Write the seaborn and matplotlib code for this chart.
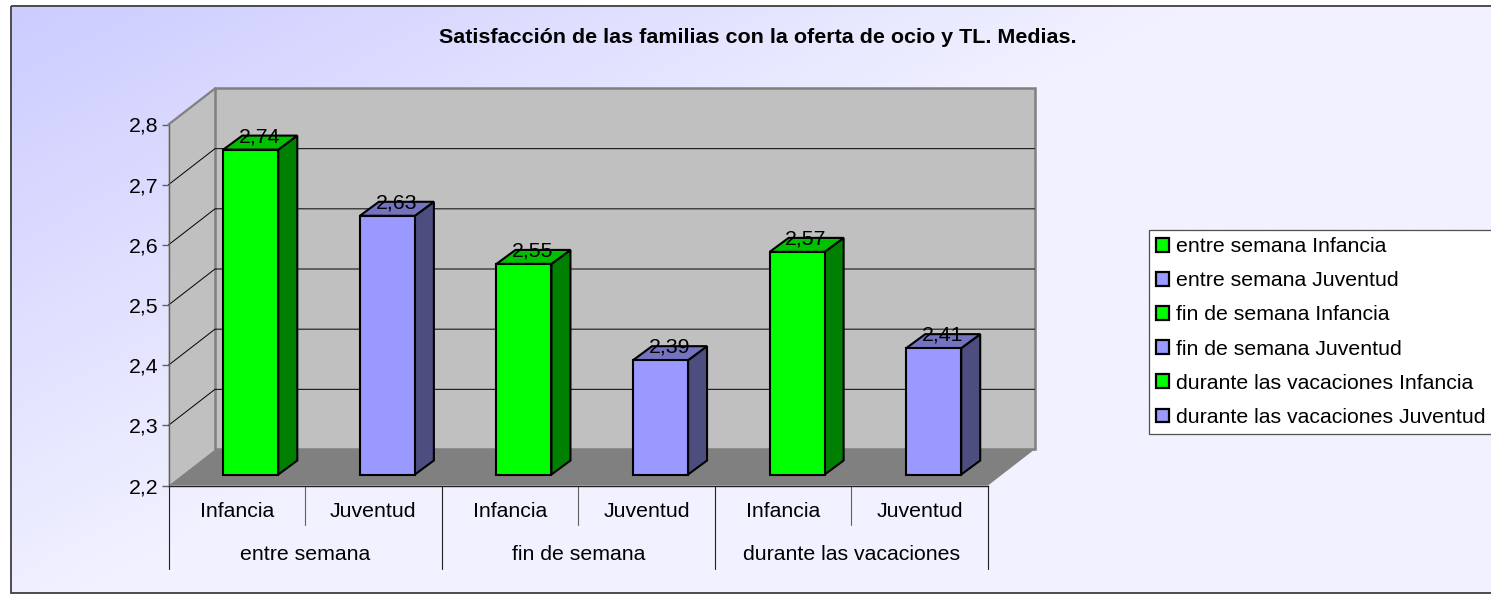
import numpy as np
import pandas as pd
import matplotlib
matplotlib.use('Agg')
import matplotlib.pyplot as plt
from matplotlib.patches import Patch, Polygon, Rectangle
import seaborn as sns

groups = ['entre semana', 'fin de semana', 'durante las vacaciones']
ages = ['Infancia', 'Juventud']
values = [2.74, 2.63, 2.55, 2.39, 2.57, 2.41]
y_ticks = [2.2, 2.3, 2.4, 2.5, 2.6, 2.7, 2.8]
title = 'Satisfacción de las familias con la oferta de ocio y TL. Medias.'

front_colors = {'Infancia': '#00FF00', 'Juventud': '#9999FF'}
side_colors = {'Infancia': '#008000', 'Juventud': '#4D4D80'}
top_colors = {'Infancia': '#00C000', 'Juventud': '#7373BF'}

df = pd.DataFrame({
    'group': [g for g in groups for a in ages],
    'age': [a for g in groups for a in ages],
    'value': values,
})
df['name'] = df['group'] + ' ' + df['age']

sns.set_theme(style='white')
plt.rcParams['font.family'] = ['Liberation Sans', 'DejaVu Sans']
FS = 15.3
EDGE = 1.5

W, H = 1491, 594
fig = plt.figure(figsize=(W / 100, H / 100), dpi=100, facecolor='white')

# chart area background with its soft gradient, in pixel coordinates
bg = fig.add_axes([0, 0, 1, 1], zorder=-1)
xx, yy = np.meshgrid(np.linspace(0, 1, 200), np.linspace(0, 1, 100))
t = np.clip(1.27 * xx + 0.95 * yy, 0, 1)[..., None]
c0 = np.array([0xCC, 0xCC, 0xFF]) / 255
c1 = np.array([0xF1, 0xF1, 0xFF]) / 255
bg.imshow(c0 + (c1 - c0) * t, extent=(10.5, W + 3, 593, 5.5), aspect='auto', interpolation='bilinear')
bg.add_patch(Rectangle((10.5, 5.5), W, 587.5, fc='none', ec='#404040', lw=1.3))
bg.set_xlim(0, W)
bg.set_ylim(H, 0)
bg.axis('off')
bg.text(757.5, 37.5, title, ha='center', va='center', fontsize=15.45, fontweight='bold', color='black')

# front plane of the plot box
left, right, bottom, top = 168.5, 988, 485.5, 124.5
ax = fig.add_axes([left / W, 1 - bottom / H, (right - left) / W, (bottom - top) / H])
ax.patch.set_visible(False)

sns.barplot(data=df, x='name', y='value', hue='age', palette=front_colors, saturation=1,
            order=df['name'], width=55 / 136.6, dodge=False, legend=False,
            edgecolor='black', linewidth=EDGE, zorder=5, ax=ax)
ax.set_xlim(-0.5, 5.5)
ax.set_ylim(y_ticks[0], y_ticks[-1])
ax.set_xlabel('')
ax.set_ylabel('')

px = 6 / (right - left)      # data units per pixel on x
py = 0.6 / (bottom - top)    # data units per pixel on y
xa, xb = ax.get_xlim()
ya, yb = ax.get_ylim()
back_x = 46.5 * px
back_y = 36 * py

# walls and floor
ax.add_patch(Polygon([(xa, ya), (xa, yb), (xa + back_x, yb + back_y), (xa + back_x, ya + back_y)],
                     fc='#C0C0C0', ec='none', clip_on=False, zorder=1))
ax.add_patch(Rectangle((xa + back_x, ya + back_y), xb - xa, yb - ya, fc='#C0C0C0', ec='#808080',
                       lw=1.8, clip_on=False, zorder=1))
ax.add_patch(Polygon([(xa, ya), (xb, ya), (xb + back_x, ya + back_y), (xa + back_x, ya + back_y)],
                     fc='#808080', ec='none', clip_on=False, zorder=2))
ax.plot([xa, xa + back_x], [yb, yb + back_y], color='#808080', lw=1.6, clip_on=False, zorder=2)

# gridlines run along the side wall and the back wall
for v in y_ticks[1:-1]:
    ax.plot([xa, xa + back_x, xb + back_x], [v, v + back_y, v + back_y], color='black', lw=0.7,
            clip_on=False, zorder=2)

# bars: move into the depth of the box and add side and top faces
shift_x, shift_y = 14 * px, 11 * py
dx, dy = 19 * px, 14 * py
bars = sorted([b for b in ax.patches if b.get_zorder() == 5], key=lambda b: b.get_x())
for bar, v, age in zip(bars, values, df['age']):
    x0 = bar.get_x() + shift_x
    x1 = x0 + bar.get_width()
    y0 = ya + shift_y
    y1 = y0 + (v - ya)
    bar.set_x(x0)
    bar.set_y(y0)
    bar.set_height(v - ya)
    bar.set_clip_on(False)
    ax.add_patch(Polygon([(x1, y0), (x1 + dx, y0 + dy), (x1 + dx, y1 + dy), (x1, y1)],
                         fc=side_colors[age], ec='black', lw=EDGE, clip_on=False, zorder=4))
    ax.add_patch(Polygon([(x0, y1), (x0 + dx, y1 + dy), (x1 + dx, y1 + dy), (x1, y1)],
                         fc=top_colors[age], ec='black', lw=EDGE, clip_on=False, zorder=4))
    ax.text((x0 + x1) / 2 + 9 * px, y1 + 13 * py, f'{v:.2f}'.replace('.', ','), ha='center', va='center',
            fontsize=FS, color='black', zorder=6, clip_on=False)

for side in ['top', 'right']:
    ax.spines[side].set_visible(False)
ax.spines['left'].set_color('#606060')
ax.spines['left'].set_linewidth(1.0)
ax.spines['bottom'].set_color('#202020')
ax.spines['bottom'].set_linewidth(1.0)
ax.spines['left'].set_zorder(3)
ax.spines['bottom'].set_zorder(3)

ax.set_yticks(y_ticks, [f'{v:.1f}'.replace('.', ',') for v in y_ticks])
ax.tick_params(axis='y', left=True, length=5, width=1.0, color='#606060', pad=2.2,
               labelsize=FS, labelcolor='black')
ax.set_xticks(range(len(df)), df['age'])
ax.tick_params(axis='x', bottom=False, pad=12.5, labelsize=FS, labelcolor='black')
for lab in ax.get_xticklabels():
    lab.set_verticalalignment('center')
    lab.set_color('black')

# two level category axis
n_age = len(ages)
for i in range(len(df) + 1):
    x = xa + i
    if i % n_age == 0:
        ax.plot([x, x], [ya, ya - 83 * py], color='#202020', lw=0.8, clip_on=False, zorder=3)
    else:
        ax.plot([x, x], [ya, ya - 39 * py], color='#606060', lw=0.8, clip_on=False, zorder=3)
for k, g in enumerate(groups):
    ax.text(xa + n_age * k + n_age / 2, ya - 69 * py, g, ha='center', va='center', fontsize=FS, color='black')

handles = [Patch(fc=front_colors[a], ec='black', lw=1.6, label=n) for n, a in zip(df['name'], df['age'])]
leg = fig.legend(handles=handles, loc='upper left', bbox_to_anchor=(1149 / W, 1 - 230.5 / H), bbox_transform=fig.transFigure,
                 fontsize=FS, frameon=True, fancybox=False, framealpha=1, facecolor='white', edgecolor='#505050',
                 handlelength=0.6, handleheight=0.6, handletextpad=0.36, labelspacing=0.71,
                 borderpad=0.32, borderaxespad=0)
leg.get_frame().set_linewidth(0.9)
for txt in leg.get_texts():
    txt.set_color('black')

fig.savefig('out.png', dpi=100)
